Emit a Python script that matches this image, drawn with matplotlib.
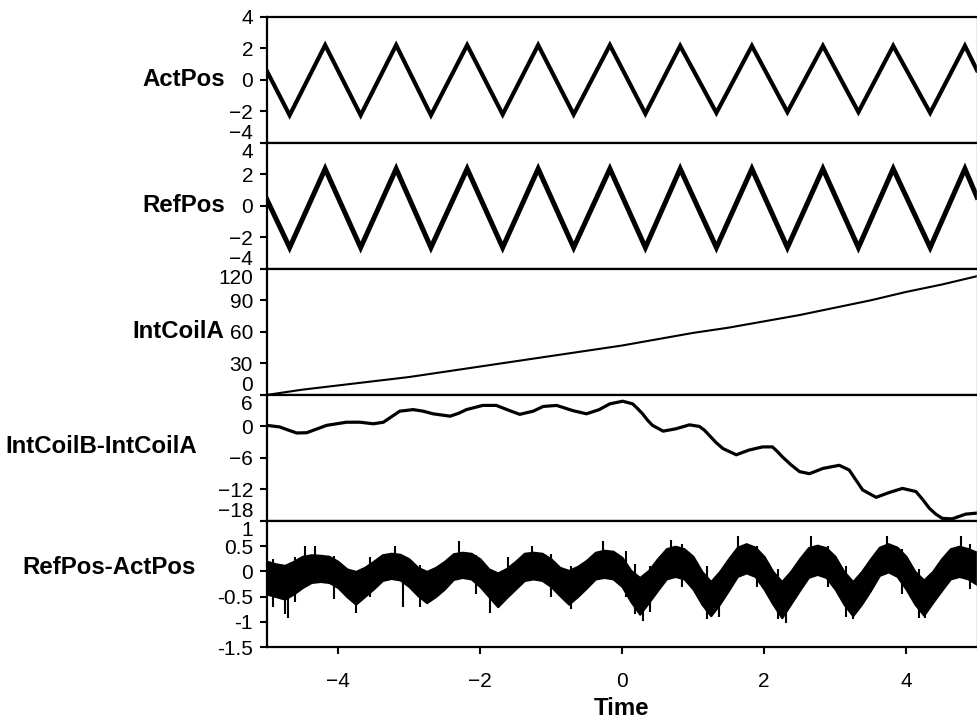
"""
Five stacked traces against time: actual / reference position, coil
integrator and the two difference signals. Values read off the scope plot.
"""

import matplotlib.pyplot as plt

# ── Data ────────────────────────────────────────────────────────────────
# triangle traces: vertex times and values
ACT_T = [-5.0, -4.68, -4.18, -3.68, -3.18, -2.69, -2.18, -1.68, -1.18, -0.68, -0.17,
         0.33, 0.82, 1.33, 1.83, 2.33, 2.83, 3.33, 3.82, 4.34, 4.83, 5.0]
ACT_V = [0.55, -2.25, 2.2, -2.25, 2.2, -2.25, 2.2, -2.2, 2.2, -2.2, 2.2,
         -2.15, 2.15, -2.1, 2.15, -2.05, 2.15, -2.05, 2.15, -2.1, 2.15, 0.6]
REF_V = [0.4, -2.65, 2.35, -2.65, 2.35, -2.65, 2.35, -2.65, 2.35, -2.65, 2.35,
         -2.65, 2.35, -2.65, 2.35, -2.65, 2.35, -2.65, 2.35, -2.65, 2.35, 0.55]

COIL_T = [-5.0, -4.5, -4.0, -3.5, -3.0, -2.5, -2.0, -1.5, -1.0, -0.5, 0.0,
          0.5, 1.0, 1.5, 2.0, 2.5, 3.0, 3.5, 4.0, 4.5, 5.0]
COIL_A = [0, 5, 9, 13, 17, 22, 27, 32, 37, 42, 47,
          53, 59, 64, 70, 76, 83, 90, 98, 105, 113]

DIFF_T = [-5.0, -4.82, -4.7, -4.58, -4.44, -4.3, -4.16, -3.88, -3.69, -3.5, -3.36, -3.25,
          -3.13, -2.94, -2.8, -2.66, -2.42, -2.3, -2.19, -1.96, -1.77, -1.58, -1.44, -1.25,
          -1.11, -0.92, -0.69, -0.5, -0.32, -0.17, 0.01, 0.15, 0.22, 0.29, 0.36, 0.43, 0.58,
          0.76, 0.95, 1.09, 1.16, 1.23, 1.32, 1.42, 1.61, 1.79, 1.98, 2.12, 2.19, 2.26, 2.38,
          2.5, 2.64, 2.83, 3.06, 3.2, 3.3, 3.39, 3.58, 3.76, 3.95, 4.14, 4.24, 4.33, 4.42,
          4.51, 4.65, 4.84, 5.0]
DIFF_V = [0.2, -0.1, -0.7, -1.25, -1.2, -0.5, 0.2, 0.8, 0.8, 0.5, 0.8, 1.8,
          2.9, 3.2, 2.9, 2.4, 1.95, 2.5, 3.2, 4.0, 4.0, 3.0, 2.3, 2.9,
          3.8, 4.0, 3.0, 2.4, 3.2, 4.3, 4.8, 4.3, 3.4, 2.4, 1.2, 0.2, -0.9,
          -0.45, 0.3, 0.0, -0.7, -1.7, -3.0, -4.2, -5.4, -4.5, -3.9, -3.9, -4.8, -5.8, -7.3,
          -8.6, -9.0, -8.0, -7.4, -8.3, -10.3, -12.1, -13.5, -12.6, -11.8, -12.4, -14.0, -15.6, -16.7,
          -17.5, -17.6, -16.7, -16.5]

# RefPos-ActPos is a noisy band: upper / lower envelope plus the tallest spikes
ERR_T = [-5.0, -4.875, -4.75, -4.625, -4.5, -4.375, -4.25, -4.125,
         -4.0, -3.875, -3.75, -3.625, -3.5, -3.375, -3.25, -3.125,
         -3.0, -2.875, -2.75, -2.625, -2.5, -2.375, -2.25, -2.125,
         -2.0, -1.875, -1.75, -1.625, -1.5, -1.375, -1.25, -1.125,
         -1.0, -0.875, -0.75, -0.625, -0.5, -0.375, -0.25, -0.125,
         0.0, 0.125, 0.25, 0.375, 0.5, 0.625, 0.75, 0.875,
         1.0, 1.125, 1.25, 1.375, 1.5, 1.625, 1.75, 1.875,
         2.0, 2.125, 2.25, 2.375, 2.5, 2.625, 2.75, 2.875,
         3.0, 3.125, 3.25, 3.375, 3.5, 3.625, 3.75, 3.875,
         4.0, 4.125, 4.25, 4.375, 4.5, 4.625, 4.75, 4.875, 5.0]
ERR_HI = [0.2, 0.15, 0.12, 0.2, 0.3, 0.33, 0.32, 0.3,
          0.2, 0.05, 0.0, 0.08, 0.2, 0.33, 0.36, 0.34,
          0.25, 0.08, 0.0, 0.08, 0.2, 0.35, 0.38, 0.36,
          0.25, 0.05, -0.03, 0.06, 0.2, 0.36, 0.38, 0.36,
          0.25, 0.08, 0.02, 0.1, 0.22, 0.38, 0.42, 0.4,
          0.28, 0.02, -0.12, 0.02, 0.25, 0.45, 0.5, 0.45,
          0.3, 0.0, -0.2, 0.0, 0.25, 0.48, 0.55, 0.48,
          0.3, 0.0, -0.2, 0.0, 0.25, 0.47, 0.52, 0.47,
          0.3, 0.0, -0.2, 0.0, 0.25, 0.48, 0.55, 0.48,
          0.3, 0.0, -0.17, 0.0, 0.25, 0.45, 0.5, 0.45, 0.38]
ERR_LO = [-0.45, -0.5, -0.55, -0.45, -0.32, -0.22, -0.2, -0.22,
          -0.32, -0.5, -0.65, -0.5, -0.35, -0.18, -0.14, -0.17,
          -0.3, -0.48, -0.62, -0.5, -0.35, -0.16, -0.12, -0.15,
          -0.3, -0.5, -0.7, -0.52, -0.35, -0.18, -0.15, -0.18,
          -0.3, -0.48, -0.65, -0.5, -0.33, -0.15, -0.12, -0.15,
          -0.3, -0.6, -0.85, -0.62, -0.38, -0.15, -0.1, -0.15,
          -0.35, -0.65, -0.88, -0.65, -0.38, -0.1, -0.03, -0.1,
          -0.35, -0.65, -0.92, -0.65, -0.38, -0.12, -0.06, -0.12,
          -0.35, -0.65, -0.88, -0.65, -0.38, -0.08, -0.01, -0.1,
          -0.35, -0.65, -0.87, -0.62, -0.38, -0.15, -0.1, -0.15, -0.26]
SPIKE_T = [-4.92, -4.75, -4.70, -4.6, -4.46, -4.32, -4.05, -3.74, -3.55, -3.20, -3.08,
           -2.85, -2.30, -2.05, -1.86, -1.6, -1.27, -1.0, -0.72, -0.26, 0.05,
           0.18, 0.29, 0.4, 0.69, 0.85, 1.2, 1.37, 1.63, 1.9, 2.2, 2.31, 2.66,
           2.9, 3.15, 3.25, 3.73, 3.95, 4.18, 4.27, 4.77, 4.9]
SPIKE_LO = [-0.7, -0.85, -0.93, -0.6, 0.0, 0.0, -0.55, -0.82, -0.5, 0.1, -0.7,
            -0.7, 0.1, -0.45, -0.82, -0.5, 0.1, -0.5, -0.75, 0.1, -0.5,
            -0.85, -0.98, -0.8, 0.2, -0.3, -0.95, -0.9, 0.2, -0.3, -0.95, -1.02, 0.2,
            -0.3, -0.9, -0.95, 0.2, -0.45, -0.92, -0.93, 0.2, -0.35]
SPIKE_HI = [0.25, -0.2, -0.2, 0.28, 0.5, 0.5, 0.3, -0.3, 0.28, 0.5, -0.1,
            0.12, 0.6, 0.32, -0.3, 0.28, 0.5, 0.35, 0.1, 0.6, 0.4,
            0.15, -0.4, 0.1, 0.62, 0.55, 0.1, -0.4, 0.7, 0.5, 0.05, -0.5, 0.7,
            0.5, 0.1, -0.5, 0.7, 0.45, 0.05, -0.5, 0.7, 0.55]

LABELS = ["ActPos", "RefPos", "IntCoilA", "IntCoilB-IntCoilA", "RefPos-ActPos"]
YTICKS = [
    [-4, -2, 0, 2, 4],
    [-4, -2, 0, 2, 4],
    [0, 30, 60, 90, 120],
    [-18, -12, -6, 0, 6],
    [-1.5, -1, -0.5, 0, 0.5, 1],
]
ERR_TICKLABELS = ["-1.5", "-1", "-0.5", "0", "0.5", "1"]
XTICKS = [-4, -2, 0, 2, 4]

# ── Plotting ────────────────────────────────────────────────────────────
plt.rcParams["font.family"] = ["Liberation Sans", "DejaVu Sans"]

fig, axes = plt.subplots(5, 1, sharex=True, figsize=(9.77, 7.27), dpi=100)
fig.subplots_adjust(left=0.2732, right=1.0, top=0.977, bottom=0.110, hspace=0)

axes[0].plot(ACT_T, ACT_V, color="black", lw=3.0, solid_joinstyle="miter")
axes[1].plot(ACT_T, REF_V, color="black", lw=3.6, solid_joinstyle="miter")
axes[2].plot(COIL_T, COIL_A, color="black", lw=1.5)
axes[3].plot(DIFF_T, DIFF_V, color="black", lw=2.3)
axes[4].fill_between(ERR_T, ERR_LO, ERR_HI, color="black", lw=1.5, edgecolor="black")
axes[4].vlines(SPIKE_T, SPIKE_LO, SPIKE_HI, color="black", lw=1.5)

# label x offsets / heights (axes fraction), matching the reference
label_x = [-0.059, -0.059, -0.060, -0.098, -0.100]
label_y = [0.5, 0.5, 0.5, 0.59, 0.627]

for i, ax in enumerate(axes):
    ax.set_xlim(-5, 5)
    ax.set_ylim(YTICKS[i][0], YTICKS[i][-1])
    if i == 4:
        ax.set_yticks(YTICKS[i], ERR_TICKLABELS)
    else:
        ax.set_yticks(YTICKS[i])
    ax.tick_params(axis="y", direction="out", length=5, width=1.5, labelsize=15, pad=5)
    ax.tick_params(axis="x", direction="out", length=5, width=1.5, labelsize=15, pad=13)
    if i < 4:
        ax.tick_params(axis="x", bottom=False)

    for side in ("left", "top", "bottom"):
        ax.spines[side].set_linewidth(1.6)
    ax.spines["right"].set_linewidth(1.0)
    ax.spines["right"].set_color("0.6")

    ax.set_ylabel(LABELS[i], rotation=0, ha="right", va="center",
                  fontsize=17.3, fontweight="bold")
    ax.yaxis.set_label_coords(label_x[i], label_y[i])

    # keep edge tick labels inside their own panel
    ticks = ax.yaxis.get_major_ticks()
    if i < 4:
        ticks[0].label1.set_verticalalignment("bottom")
    if i > 0:
        ticks[-1].label1.set_verticalalignment("top")

axes[4].set_xticks(XTICKS)
axes[4].set_xlabel("Time", fontsize=17.3, fontweight="bold", labelpad=4)

fig.savefig("out.png", dpi=100)
